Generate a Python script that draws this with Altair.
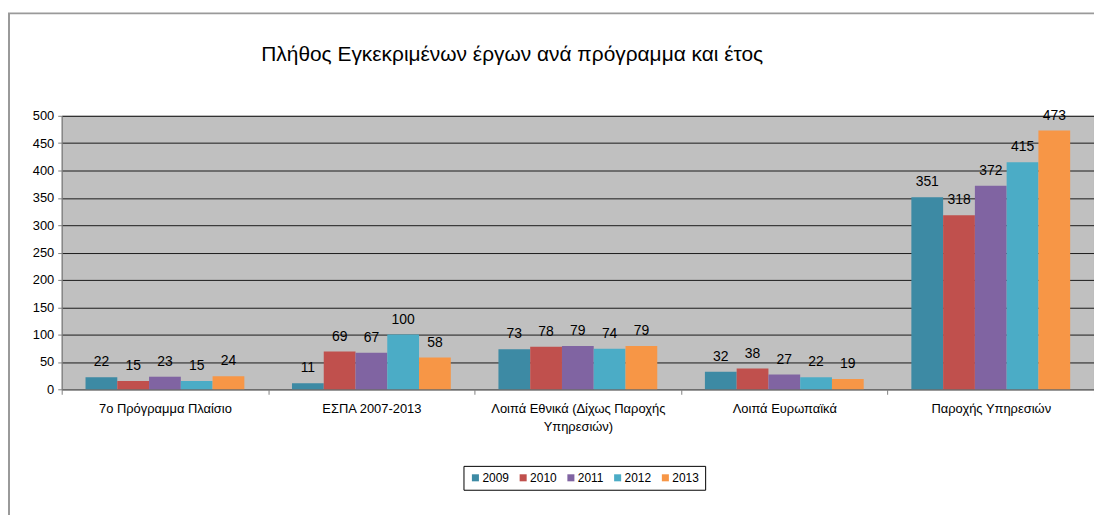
import altair as alt
import pandas as pd

categories = ["7ο Πρόγραμμα Πλαίσιο", "ΕΣΠΑ 2007-2013",
              "Λοιπά Εθνικά (Δίχως Παροχής Υπηρεσιών)", "Λοιπά Ευρωπαϊκά",
              "Παροχής Υπηρεσιών"]
years = ["2009", "2010", "2011", "2012", "2013"]
v2009 = [22, 11, 73, 32, 351]
v2010 = [15, 69, 78, 38, 318]
v2011 = [23, 67, 79, 27, 372]
v2012 = [15, 100, 74, 22, 415]
v2013 = [24, 58, 79, 19, 473]
colors = ["#3D8AA4", "#C0504D", "#8064A2", "#4BACC6", "#F79646"]

series = [v2009, v2010, v2011, v2012, v2013]
rows = []
for y, vals in zip(years, series):
    for c, v in zip(categories, vals):
        rows.append({"cat": c, "year": y, "value": v})
df = pd.DataFrame(rows)

REG = "Liberation Sans, Arial, sans-serif"

label_expr = ("datum.label == 'Λοιπά Εθνικά (Δίχως Παροχής Υπηρεσιών)' ? "
              "['Λοιπά Εθνικά (Δίχως Παροχής', 'Υπηρεσιών)'] : datum.label")

base = alt.Chart(df).encode(
    x=alt.X("cat:N", sort=categories, title=None,
            scale=alt.Scale(paddingInner=0, paddingOuter=0),
            axis=alt.Axis(labelAngle=0, labelExpr=label_expr, tickBand="extent",
                          labelFont=REG, labelFontSize=13, labelColor="#000",
                          domainColor="#808080", tickColor="#808080", tickSize=5,
                          labelPadding=8, labelLineHeight=18, labelLimit=300,
                          grid=False)),
    xOffset=alt.XOffset("year:N", sort=years,
                        scale=alt.Scale(paddingInner=0, paddingOuter=0.75)),
    y=alt.Y("value:Q", title=None,
            scale=alt.Scale(domain=[0, 500]),
            axis=alt.Axis(values=list(range(0, 501, 50)), labelFont=REG,
                          labelFontSize=13, labelColor="#000", grid=True,
                          gridColor="#1a1a1a", gridWidth=1, gridOpacity=1,
                          domainColor="#808080", tickColor="#808080",
                          tickSize=4, labelPadding=4, labelOverlap=False)),
)

bars = base.mark_bar().encode(
    color=alt.Color("year:N", sort=years,
                    scale=alt.Scale(domain=years, range=colors),
                    legend=alt.Legend(title=None, orient="none", direction="horizontal",
                                      legendX=404, legendY=352, strokeColor="#000",
                                      padding=6, symbolType="square", symbolSize=50,
                                      symbolStrokeWidth=0, labelFont=REG,
                                      labelFontSize=12, labelColor="#000",
                                      labelOffset=1, columnPadding=8, fillColor="#fff")),
)

texts = base.mark_text(baseline="alphabetic", dy=-11, font=REG, fontSize=14,
                       color="#000").encode(
    text=alt.Text("value:Q"),
)

frame = alt.Chart(pd.DataFrame({"a": [0]})).mark_rect(
    fill=None, stroke="#9a9a9a", strokeWidth=2
).encode(
    x=alt.value(-53), x2=alt.value(1100),
    y=alt.value(-103), y2=alt.value(520),
)

chart = alt.layer(frame, bars, texts).properties(
    width=1038, height=275,
    title=alt.TitleParams("Πλήθος Εγκεκριμένων έργων ανά πρόγραμμα και έτος",
                          font=REG, fontSize=21, fontWeight="normal",
                          color="#000", dx=-66, offset=-70, anchor="middle",
                          baseline="alphabetic"),
    autosize=alt.AutoSizeParams(type="none"),
    padding={"left": 54, "top": 107, "right": 0, "bottom": 125},
    background="#ffffff",
).configure_view(
    fill="#C0C0C0", stroke="#808080", strokeWidth=1
)

chart.save("out.html", embed_options={"renderer": "svg", "actions": False})
